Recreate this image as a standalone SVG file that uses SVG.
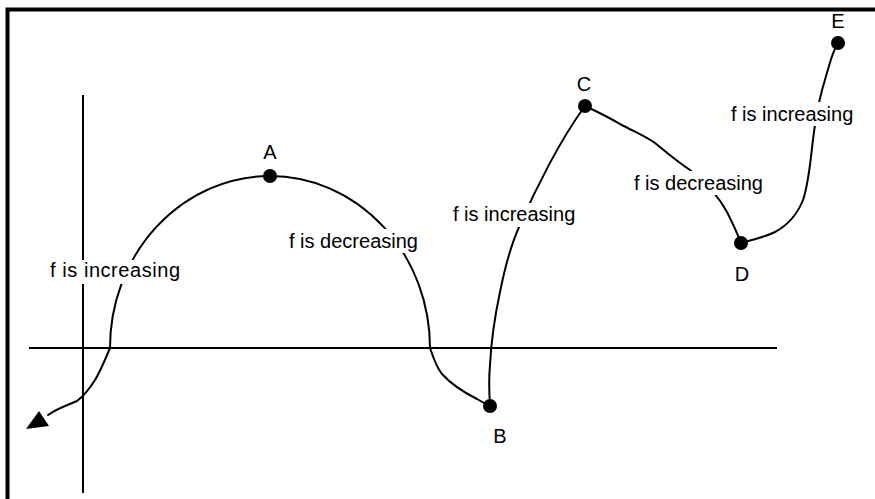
<svg xmlns="http://www.w3.org/2000/svg" width="875" height="499" viewBox="0 0 875 499">
<style>
.ln{fill:none;stroke:#000;stroke-width:2;stroke-linejoin:round;stroke-linecap:round}
.ax{fill:none;stroke:#000;stroke-width:2}
.t{font-family:"Liberation Sans",Arial,sans-serif;font-size:20px;fill:#000}
.bg{fill:#fff}
.dot{fill:#000}
</style>
<rect x="0" y="0" width="875" height="499" fill="#fff"/>
<path d="M7.5,499 V9.5 H875" fill="none" stroke="#000" stroke-width="4"/>
<g id="axes">
<line class="ax" x1="29" y1="348" x2="777" y2="348"/>
<line class="ax" x1="83" y1="95" x2="83" y2="493"/>
</g>
<g id="connectors">
<path class="ln" d="M110,348 C105,360 100,372 95,380 C90,388 85,395 77,401 C68,405 58,408 48,415"/>
<polygon class="dot" points="26,429 39,411 49,426"/>
<path class="ln" d="M110,348 A160,172 0 0 1 430,348"/>
<path class="ln" d="M430,348 C434,360 437,368 442,374 C452,385 465,393 477,399 C482,402 486,404 490,406"/>
<path class="ln" d="M490,406 C489,390 489,375 490,365 C491,345 494,320 500,292 C506,262 513,240 520,225 C535,190 560,140 585,106"/>
<path class="ln" d="M585,106 C598,112 608,117 620,124 C635,132 645,136 655,143 C665,151 675,160 690,170 C705,182 718,195 727,212 C733,224 738,235 741,243"/>
<path class="ln" d="M741,243 C752,240 765,237 775,232 C788,225 797,215 803,200 C810,180 811,150 815,125 C818,100 825,80 829,66 C832,55 835,48 838,43"/>
</g>
<g id="label-left">
<rect class="bg" x="48" y="260" width="136" height="24"/>
<text class="t" x="50" y="277" textLength="130">f is increasing</text>
</g>
<g id="label-mid-dec">
<rect class="bg" x="287" y="229" width="132" height="24"/>
<text class="t" x="289" y="248">f is decreasing</text>
</g>
<g id="label-mid-inc">
<rect class="bg" x="451" y="203" width="128" height="24"/>
<text class="t" x="453" y="221">f is increasing</text>
</g>
<g id="label-right-dec">
<rect class="bg" x="632" y="171" width="132" height="24"/>
<text class="t" x="634" y="190">f is decreasing</text>
</g>
<g id="label-right-inc">
<rect class="bg" x="729" y="102" width="128" height="24"/>
<text class="t" x="731" y="121">f is increasing</text>
</g>
<g id="node-A">
<circle class="dot" cx="270" cy="176" r="7"/>
<text class="t" x="270" y="159" text-anchor="middle">A</text>
</g>
<g id="node-B">
<circle class="dot" cx="490" cy="406" r="7"/>
<text class="t" x="500" y="443" text-anchor="middle">B</text>
</g>
<g id="node-C">
<circle class="dot" cx="585" cy="106" r="7"/>
<text class="t" x="584" y="91" text-anchor="middle">C</text>
</g>
<g id="node-D">
<circle class="dot" cx="741" cy="243" r="7"/>
<text class="t" x="742" y="281" text-anchor="middle">D</text>
</g>
<g id="node-E">
<circle class="dot" cx="838" cy="43" r="7"/>
<text class="t" x="838" y="28" text-anchor="middle">E</text>
</g>
</svg>
